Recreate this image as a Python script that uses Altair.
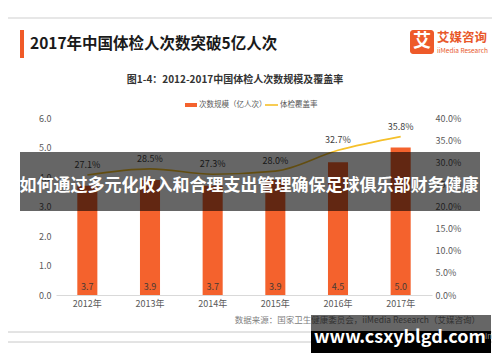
import altair as alt
import pandas as pd

# ---- data ----
years = ["2012年", "2013年", "2014年", "2015年", "2016年", "2017年"]
visits = [3.7, 3.9, 3.7, 3.9, 4.5, 5.0]          # 次数规模（亿人次）
coverage = [0.271, 0.285, 0.273, 0.280, 0.327, 0.358]  # 体检覆盖率
left_ticks = [0, 1, 2, 3, 4, 5, 6]
right_ticks = [0, 0.05, 0.10, 0.15, 0.20, 0.25, 0.30, 0.35, 0.40]

title_text = "2017年中国体检人次数突破5亿人次"
subtitle_text = "图1-4：2012-2017中国体检人次数规模及覆盖率"
legend_bar = "次数规模（亿人次）"
legend_line = "体检覆盖率"
banner_text = "如何通过多元化收入和合理支出管理确保足球俱乐部财务健康"
source_text = "数据来源：国家卫生健康委员会，iiMedia Research（艾媒咨询）"
watermark_text = "www.csxyblgd.com"

df = pd.DataFrame({"year": years, "visits": visits, "coverage": coverage})
one = pd.DataFrame({"d": [0]})

FONT = "Noto Sans CJK SC"
ORANGE = "#F4622D"
GOLD = "#F5C02A"

xscale = alt.Scale(paddingInner=0.68, paddingOuter=0.34)
base = alt.Chart(df).encode(
    x=alt.X("year:N", sort=None, scale=xscale,
            axis=alt.Axis(title=None, labelAngle=0, ticks=False, domainColor="#d9d9d9",
                          labelColor="#595959", labelFont=FONT, labelFontSize=9,
                          labelPadding=4))
)

bars = base.mark_bar(color=ORANGE).encode(
    y=alt.Y("visits:Q", scale=alt.Scale(domain=[0, 6]),
            axis=alt.Axis(title=None, values=left_ticks, format=".1f", domain=False,
                          ticks=False, grid=False, labelColor="#595959", labelFont=FONT,
                          labelFontSize=9, labelPadding=5))
)
bar_labels = base.transform_calculate(zero="0").mark_text(
    font=FONT, fontSize=9, color="#4a3a33", dy=-8
).encode(
    y=alt.Y("zero:Q", scale=alt.Scale(domain=[0, 6]), axis=None),
    text=alt.Text("visits:Q", format=".1f")
)

line = base.mark_line(color=GOLD, strokeWidth=1.6, interpolate="monotone").encode(
    y=alt.Y("coverage:Q", scale=alt.Scale(domain=[0, 0.4]),
            axis=alt.Axis(title=None, orient="right", values=right_ticks, format=".1%",
                          domain=False, ticks=False, grid=False, labelColor="#595959",
                          labelFont=FONT, labelFontSize=9, labelPadding=3))
)
line_labels = base.mark_text(font=FONT, fontSize=9, color="#404040", dy=-10).encode(
    y=alt.Y("coverage:Q", scale=alt.Scale(domain=[0, 0.4]), axis=None),
    text=alt.Text("coverage:Q", format=".1%")
)


def txt(text, x, y, **kw):
    return alt.Chart(one).mark_text(text=text, font=FONT, **kw).encode(
        x=alt.value(x), y=alt.value(y))


def box(x, x2, y, y2, **kw):
    return alt.Chart(one).mark_rect(**kw).encode(
        x=alt.value(x), x2=alt.value(x2), y=alt.value(y), y2=alt.value(y2))


def hrule(x, x2, y, **kw):
    return alt.Chart(one).mark_rule(**kw).encode(
        x=alt.value(x), x2=alt.value(x2), y=alt.value(y))


deco = [
    hrule(-60, 450, -100, color="#cfcfcf", strokeWidth=1),
    hrule(-60, 450, 214, color="#c8c8c8", strokeWidth=1),
    hrule(-60, 450, 224, color="#c8c8c8", strokeWidth=1),
    box(-36, -32, -88, -60, color="#F05A28"),
    txt(title_text, -26, -74, fontSize=15.5, fontWeight="bold", align="left",
        baseline="middle", color="#1a1a1a"),
    box(354, 378, -88, -64, color="#EE5A2A", cornerRadius=3),
    txt("艾", 366, -76, fontSize=18, fontWeight="bold", color="white",
        align="center", baseline="middle"),
    txt("艾媒咨询", 381, -80, fontSize=12.5, fontWeight="bold", color="#E8582A",
        align="left", baseline="middle"),
    txt("iiMedia Research", 381, -67, fontSize=6.5, color="#E8582A",
        align="left", baseline="middle"),
    txt(subtitle_text, 179, -38, fontSize=10, fontWeight="bold", color="#333333",
        align="center", baseline="middle"),
    box(129, 141, -15, -11, color=ORANGE),
    txt(legend_bar, 143, -13, fontSize=7.5, color="#595959", align="left",
        baseline="middle"),
    hrule(209, 222, -13, color=GOLD, strokeWidth=1.6),
    txt(legend_line, 224, -13, fontSize=7.5, color="#595959", align="left",
        baseline="middle"),
    txt(source_text, 424, 202, fontSize=8.5, color="#808080", align="right",
        baseline="middle"),
]

overlay = [
    box(-36, 424, 34, 93, color="black", opacity=0.6),
    txt(banner_text, 193, 68, fontSize=17, fontWeight="bold", color="white",
        align="center", baseline="middle"),
    box(255, 435, 197, 213, color="black", opacity=0.6),
    box(255, 435, 213, 235, color="black"),
    txt(watermark_text, 344, 220, fontSize=18, fontWeight="bold", color="white",
        align="center", baseline="middle"),
    txt("Inc", 429, 219, fontSize=7.5, color="#9a9a9a", align="left", baseline="middle"),
]

chart = alt.layer(
    *deco, bars, bar_labels, line, line_labels, *overlay
).resolve_scale(y="independent").properties(
    width=376, height=177,
    autosize=alt.AutoSizeParams(type="none"),
    padding={"left": 48, "top": 110, "right": 60, "bottom": 59},
    background="white",
).configure_view(stroke=None)

chart.save("out.html", embed_options={"renderer": "svg", "actions": False})
